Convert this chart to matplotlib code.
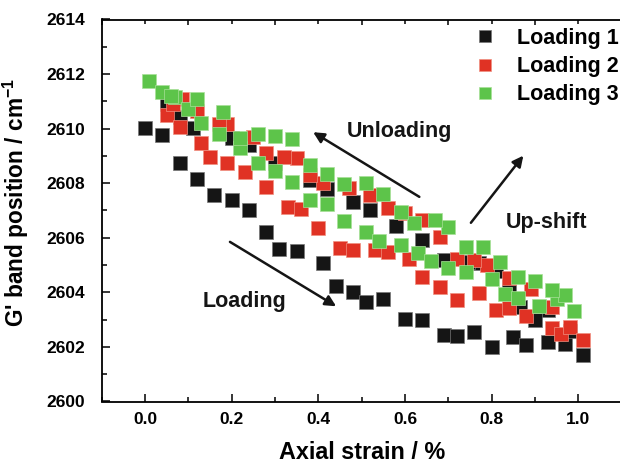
import matplotlib
matplotlib.use("Agg")
from matplotlib import pyplot as plt
from matplotlib.ticker import MultipleLocator

plt.rcParams['font.family'] = ['Liberation Sans', 'DejaVu Sans']
plt.rcParams['font.weight'] = 'bold'
plt.rcParams['mathtext.fontset'] = 'custom'
plt.rcParams['mathtext.rm'] = 'Liberation Sans:bold'
plt.rcParams['mathtext.it'] = 'Liberation Sans:bold'
plt.rcParams['mathtext.bf'] = 'Liberation Sans:bold'

# loading 1 (black): loading branch then unloading branch
strain_1 = [0.0, 0.04, 0.08, 0.12, 0.16, 0.20, 0.24, 0.28, 0.31, 0.35, 0.41, 0.44, 0.48, 0.51,
            0.55, 0.60, 0.64, 0.69, 0.72, 0.76, 0.80, 0.85, 0.88, 0.93, 0.97, 1.01,
            0.98, 0.93, 0.90, 0.865, 0.84, 0.81, 0.77, 0.745, 0.69, 0.64, 0.58, 0.52, 0.48,
            0.42, 0.38, 0.30, 0.24, 0.20, 0.11, 0.08, 0.05]
shift_1 = [2610.04, 2609.76, 2608.74, 2608.14, 2607.55, 2607.38, 2607.0, 2606.2, 2605.6, 2605.5,
           2605.06, 2604.23, 2604.02, 2603.65, 2603.76, 2603.04, 2602.98, 2602.44, 2602.4,
           2602.54, 2602.0, 2602.37, 2602.07, 2602.18, 2602.12, 2601.72,
           2602.6, 2603.35, 2602.98, 2603.47, 2604.2, 2604.8, 2605.06, 2605.12, 2605.18,
           2605.92, 2606.43, 2607.0, 2607.32, 2607.8, 2608.1, 2608.73, 2609.4, 2609.65,
           2610.04, 2610.44, 2610.9]

# loading 2 (red)
strain_2 = [0.05, 0.08, 0.13, 0.15, 0.19, 0.23, 0.28, 0.33, 0.36, 0.40, 0.45, 0.48, 0.53, 0.56,
            0.61, 0.64, 0.68, 0.72, 0.77, 0.81, 0.84, 0.88, 0.94, 0.96, 0.98, 1.01,
            0.94, 0.89, 0.84, 0.79, 0.76, 0.72, 0.68, 0.64, 0.60, 0.56, 0.52, 0.47, 0.41,
            0.38, 0.35, 0.32, 0.28, 0.25, 0.19, 0.17, 0.12, 0.085, 0.065]
shift_2 = [2610.5, 2610.07, 2609.46, 2608.97, 2608.73, 2608.42, 2607.87, 2607.14, 2607.04,
           2606.35, 2605.61, 2605.55, 2605.55, 2605.49, 2605.24, 2604.57, 2604.18, 2603.71,
           2603.96, 2603.35, 2603.41, 2603.13, 2602.68, 2602.49, 2602.73, 2602.27,
           2603.47, 2604.14, 2604.51, 2605.0, 2605.18, 2605.24, 2606.02, 2606.65, 2606.9,
           2607.08, 2607.57, 2607.84, 2608.0, 2608.3, 2608.91, 2608.97, 2609.1, 2609.68,
           2610.18, 2610.18, 2610.65, 2611.1, 2610.9]

# loading 3 (green)
strain_3 = [0.01, 0.04, 0.07, 0.10, 0.13, 0.17, 0.22, 0.26, 0.30, 0.34, 0.38, 0.42, 0.46, 0.51,
            0.54, 0.59, 0.63, 0.66, 0.70, 0.74, 0.80, 0.83, 0.86, 0.91, 0.95, 0.99,
            0.97, 0.94, 0.90, 0.86, 0.82, 0.78, 0.74, 0.70, 0.67, 0.62, 0.59, 0.55, 0.51,
            0.46, 0.42, 0.38, 0.34, 0.30, 0.26, 0.22, 0.18, 0.12, 0.06]
shift_3 = [2611.76, 2611.36, 2611.15, 2610.71, 2610.2, 2609.8, 2609.28, 2608.75, 2608.46,
           2608.06, 2607.38, 2607.24, 2606.62, 2606.22, 2605.89, 2605.73, 2605.43, 2605.15,
           2604.88, 2604.76, 2604.49, 2603.93, 2603.81, 2603.49, 2603.74, 2603.32,
           2603.9, 2604.07, 2604.43, 2604.55, 2605.12, 2605.67, 2605.67, 2606.38, 2606.65,
           2606.55, 2606.95, 2607.6, 2608.0, 2607.97, 2608.35, 2608.67, 2609.63, 2609.73,
           2609.8, 2609.67, 2610.62, 2611.08, 2611.2]

labels = ["Loading 1", "Loading 2", "Loading 3"]
colors = ['#151515', '#e03224', '#5dc44a']
edges = ['#777777', '#f09080', '#a8e098']

fig = plt.figure(figsize=(6.2, 4.63), dpi=100)
ax = fig.add_axes([101.7/620, 61.5/463, 520/620, 382/463])

for xs, ys, c, e, lab in zip([strain_1, strain_2, strain_3], [shift_1, shift_2, shift_3],
                             colors, edges, labels):
    ax.plot(xs, ys, 's', ms=10, color=c, mec=e, mew=0.5, label=lab)

ax.set_xlim(-0.1, 1.1)
ax.set_ylim(2600, 2614)
ax.xaxis.set_major_locator(MultipleLocator(0.2))
ax.xaxis.set_minor_locator(MultipleLocator(0.1))
ax.yaxis.set_major_locator(MultipleLocator(2))
ax.yaxis.set_minor_locator(MultipleLocator(1))
ax.set_xticks([0.0, 0.2, 0.4, 0.6, 0.8, 1.0])
ax.spines['right'].set_visible(False)
for s in ['left', 'bottom', 'top']:
    ax.spines[s].set_linewidth(1.3)
ax.tick_params(which='both', direction='in', top=True, right=False, width=1.1, labelsize=12.5)
ax.tick_params(which='major', length=6)
ax.tick_params(which='minor', length=3.5)
ax.tick_params(axis='x', pad=7.5)
ax.tick_params(axis='y', pad=12)
for t in ax.xaxis.get_major_ticks():
    t.tick2line.set_markersize(3)

ax.set_xlabel("Axial strain / %", fontsize=16.8, fontweight='bold', labelpad=10)
ax.set_ylabel("G' band position / cm$^{-1}$", fontsize=16.3, fontweight='bold')
ax.yaxis.set_label_coords(-0.136, 0.52)

arrow = dict(arrowstyle='-|>', color='#151515', lw=1.8, mutation_scale=16, shrinkA=0, shrinkB=0)
ax.annotate("", xy=(0.388, 2609.87), xytext=(0.633, 2607.5), arrowprops=arrow)
ax.annotate("", xy=(0.873, 2609.01), xytext=(0.752, 2606.55), arrowprops=arrow)
ax.annotate("", xy=(0.441, 2603.49), xytext=(0.196, 2605.85), arrowprops=arrow)
ax.text(0.588, 2609.9, "Unloading", fontsize=15.5, fontweight='bold', ha='center', va='center', color='#151515')
ax.text(0.927, 2606.55, "Up-shift", fontsize=15.5, fontweight='bold', ha='center', va='center', color='#151515')
ax.text(0.23, 2603.65, "Loading", fontsize=15.5, fontweight='bold', ha='center', va='center', color='#151515')

ax.legend(loc='upper left', bbox_to_anchor=(474/620, 1 - 28/463), bbox_transform=fig.transFigure,
          frameon=False, fontsize=15.5, handlelength=1.0, handletextpad=1.0, labelspacing=0.33,
          borderpad=0, borderaxespad=0, markerscale=0.85, numpoints=1)

fig.savefig("out.png", dpi=100)
